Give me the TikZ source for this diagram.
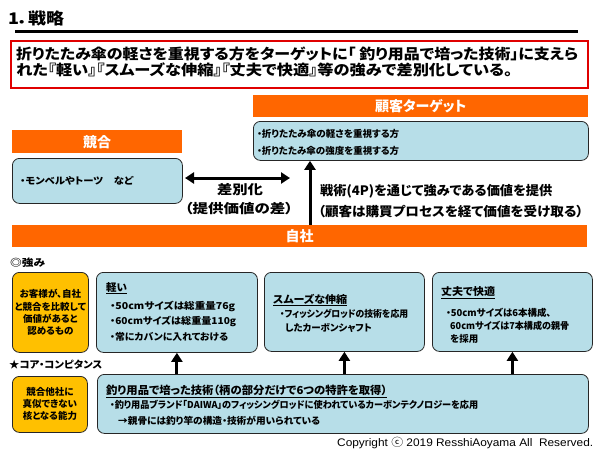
\documentclass[tikz,border=0pt]{standalone}
\usepackage{fontspec}
\usepackage{graphicx}
\usetikzlibrary{arrows.meta}
\setmainfont{Noto Sans CJK JP}[RawFeature=+palt]
\newfontfamily\latf{Liberation Sans}
\definecolor{org}{HTML}{FF6600}
\definecolor{lblue}{HTML}{B7DEE8}
\definecolor{ylw}{HTML}{FFC000}
\definecolor{redb}{HTML}{E00000}
\newcommand\fw[2]{\resizebox{#1}{\height}{#2}}
\newcommand\fs[1]{\bfseries\fontsize{#1}{#1}\selectfont}
\tikzset{
  bar/.style={fill=org, draw=none, inner sep=0pt, anchor=north west, text=white, font=\fs{14}},
  bbox/.style={fill=lblue, draw=black!85, line width=0.8pt, rounded corners=7pt, inner sep=0pt, anchor=north west},
  ybox/.style={fill=ylw, draw=black!85, line width=0.8pt, rounded corners=7pt, inner sep=0pt, anchor=north west},
  txt/.style={inner sep=0pt, anchor=west, font=\fs{9.5}},
  ytxt/.style={inner sep=0pt, align=center, font=\bfseries\fontsize{9.5}{12.2}\selectfont},
  arr/.style={line width=3pt, -{Triangle[width=11pt,length=9pt]}},
  darr/.style={line width=3pt, {Triangle[width=11pt,length=9pt]}-{Triangle[width=11pt,length=9pt]}}
}
\begin{document}
\begin{tikzpicture}[x=1pt,y=-1pt]
\useasboundingbox (0,0) rectangle (600,450);
\fill[white] (0,0) rectangle (600,450);

% title
\node[txt, font=\fs{16}] (title) at (8,18) {\fw{56pt}{1．戦略}};
\coordinate (r1) at (15,31.5);
\coordinate (r2) at (578,31.5);
\draw[line width=3.5pt] (r1) -- (r2);

% message box
\node[draw=redb, line width=2pt, inner sep=0pt, anchor=north west, minimum width=577pt, minimum height=47pt] (msg) at (10,40) {};
\node[txt, font=\fs{14.5}] (m1) at (16,54) {\fw{562pt}{折りたたみ傘の軽さを重視する方をターゲットに「 釣り用品で培った技術」に支えら}};
\node[txt, font=\fs{14.5}] (m2) at (16,69.5) {\fw{496pt}{れた『軽い』『スムーズな伸縮』『丈夫で快適』等の強みで差別化している。}};

% customer target
\node[bar, minimum width=335pt, minimum height=22pt] (tbar) at (253,95) {顧客ターゲット};
\node[bbox, minimum width=335pt, minimum height=39pt] (tbox) at (253,121) {};
\node[txt] (t1) at (257,134) {\fw{142pt}{・折りたたみ傘の軽さを重視する方}};
\node[txt] (t2) at (257,151) {\fw{142pt}{・折りたたみ傘の強度を重視する方}};

% competitors
\node[bar, minimum width=170pt, minimum height=23pt] (kbar) at (12,130) {競合};
\node[bbox, minimum width=170pt, minimum height=45pt] (kbox) at (12,158) {};
\node[txt] (k1) at (20,181) {\fw{113pt}{・モンベルやトーツ　など}};

% differentiation arrow
\coordinate (da1) at (185,178);
\coordinate (da2) at (290,178);
\draw[darr] (da1) -- (da2);
\node[inner sep=0pt, font=\fs{13}] (sa1) at (240,190) {\fw{46pt}{差別化}};
\node[inner sep=0pt, font=\fs{13}] (sa2) at (239,208.5) {\fw{108pt}{（提供価値の差）}};

% own company bar
\node[bar, minimum width=575pt, minimum height=22pt] (jbar) at (12,225) {自社};

% tactics arrow
\coordinate (ax) at (310,0);
\draw[arr] (jbar.north -| ax) -- (tbox.south -| ax);
\node[txt, font=\fs{13}] (s1) at (320,191.5) {\fw{232pt}{戦術(4P)を通じて強みである価値を提供}};
\node[txt, font=\fs{13}] (s2) at (318,211.5) {\fw{265pt}{（顧客は購買プロセスを経て価値を受け取る）}};

% strengths
\node[txt, font=\fs{10}] (stl) at (10,263) {\fw{35pt}{◎強み}};
\node[ybox, minimum width=76pt, minimum height=80pt] (y1) at (12,272) {};
\node[ytxt] (y1t) at (y1.center) {お客様が、自社\\と競合を比較して\\価値があると\\認めるもの};

\node[bbox, minimum width=161pt, minimum height=80pt] (b1) at (96,272) {};
\node[txt, font=\fs{10.5}] (b1h) at (106,288) {\underline{軽い}};
\node[txt] (b1a) at (110,306) {\fw{125pt}{・50cmサイズは総重量76g}};
\node[txt] (b1b) at (110,321) {\fw{126pt}{・60cmサイズは総重量110g}};
\node[txt] (b1c) at (110,337) {\fw{118pt}{・常にカバンに入れておける}};

\node[bbox, minimum width=160pt, minimum height=79pt] (b2) at (264,272) {};
\node[txt, font=\fs{10.5}] (b2h) at (273,300) {\underline{\fw{74pt}{スムーズな伸縮}}};
\node[txt] (b2a) at (280,314) {\fw{128pt}{・フィッシングロッドの技術を応用}};
\node[txt] (b2b) at (285,327.5) {したカーボンシャフト};

\node[bbox, minimum width=160pt, minimum height=79pt] (b3) at (432,272) {};
\node[txt, font=\fs{10.5}] (b3h) at (441,293) {\underline{\fw{54pt}{丈夫で快適}}};
\node[txt] (b3a) at (446,313) {\fw{105pt}{・50cmサイズは6本構成、}};
\node[txt] (b3b) at (450,326) {\fw{119pt}{60cmサイズは7本構成の親骨}};
\node[txt] (b3c) at (450,338.5) {\fw{28pt}{を採用}};

% core competence
\node[txt, font=\fs{10}] (ccl) at (9,365) {\fw{93pt}{★コア・コンピタンス}};
\node[ybox, minimum width=75pt, minimum height=56pt] (y2) at (12,376) {};
\node[ytxt, font=\bfseries\fontsize{9.5}{12}\selectfont] (y2t) at (y2.center) {競合他社に\\真似できない\\核となる能力};

\node[bbox, minimum width=491pt, minimum height=59pt] (core) at (97,374) {};
\node[txt, font=\fs{11}] (ch) at (106,391) {\underline{\fw{281pt}{釣り用品で培った技術（柄の部分だけで6つの特許を取得）}}};
\node[txt] (ca) at (110,405) {\fw{368pt}{・釣り用品ブランド「DAIWA」のフィッシングロッドに使われているカーボンテクノロジーを応用}};
\node[txt] (cb) at (118,421) {\fw{202pt}{→親骨には釣り竿の構造・技術が用いられている}};

\draw[arr] (core.north -| b1.south) -- (b1.south);
\draw[arr] (core.north -| b2.south) -- (b2.south);
\draw[arr] (core.north -| b3.south) -- (b3.south);

% copyright
\node[txt, font=\latf\fontsize{11}{13}\selectfont] (copy) at (337,443) {\fw{256pt}{Copyright {\normalfont\mdseries ⓒ} 2019 ResshiAoyama All\ \ Reserved.}};
\end{tikzpicture}
\end{document}
